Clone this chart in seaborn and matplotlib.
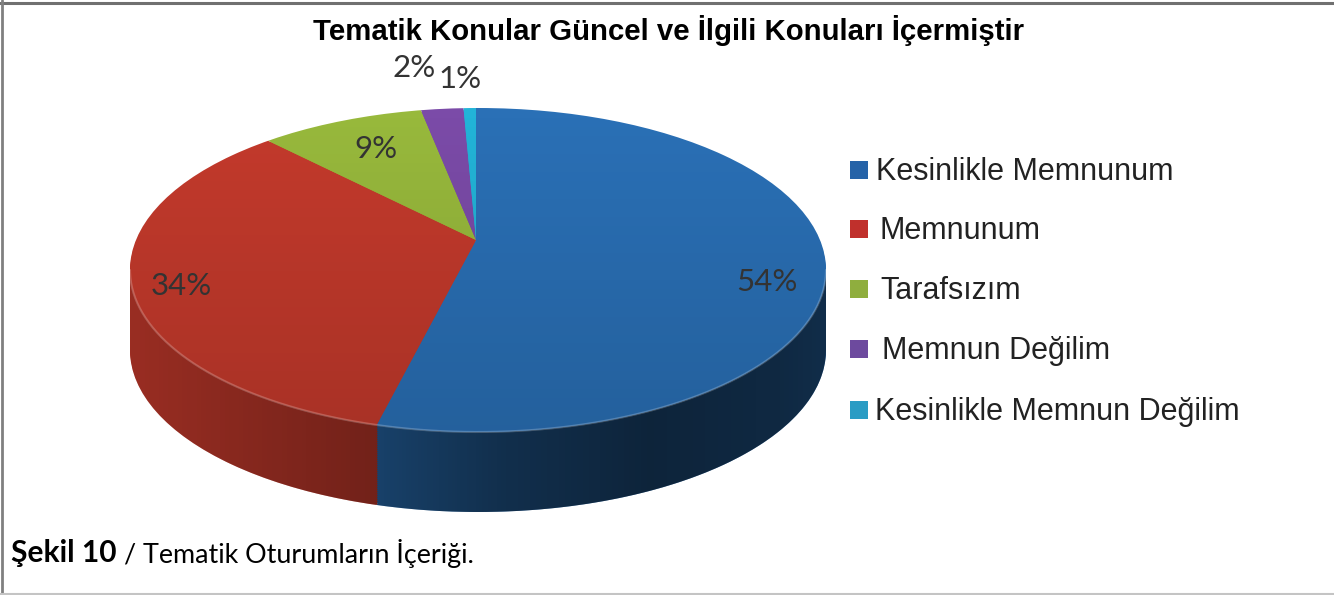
import numpy as np
import matplotlib
matplotlib.use('Agg')
import matplotlib.pyplot as plt
import seaborn as sns
from matplotlib.patches import Ellipse, PathPatch
from matplotlib.path import Path

CATEGORIES = ['Kesinlikle Memnunum', 'Memnunum', 'Tarafsızım', 'Memnun Değilim',
              'Kesinlikle Memnun Değilim']
# slice sizes, they round to the printed 54/34/9/2/1
SHARES = [53.9, 33.8, 9.2, 2.4, 0.7]
COLORS = ['#2a70b6', '#c43a2c', '#98b93c', '#7b4ba8', '#22b4d8']
LEGEND_COLORS = ['#2563a8', '#c0302c', '#8fae3e', '#6d4a9e', '#2a9cc4']
TITLE = 'Tematik Konular Güncel ve İlgili Konuları İçermiştir'

W, H = 1334, 595
# top ellipse of the pie, in pixels of the picture
CX, CY, RX, RY = 478, 270, 348, 162
APEX_X, APEX_Y = 476, 240
DEPTH = 80
K = RX / RY

sns.set_theme(style='white')
plt.rcParams['font.family'] = ['Liberation Sans', 'DejaVu Sans']

fig = plt.figure(figsize=(W / 100, H / 100), dpi=100, facecolor='white')

# pie axes: y is stretched so the round pie comes out as the flat ellipse
ax = fig.add_axes([0, 0, 1, 1])

def py(y):
    return (H - y) * K

def draw_pie(shift, zorder):
    ''' draws one layer of the pie, cut by the ellipse, moved down by shift '''
    wedges, _ = ax.pie(SHARES, colors=COLORS, startangle=90, counterclock=False,
                       radius=1000, center=(APEX_X, py(APEX_Y + shift)),
                       wedgeprops={'linewidth': 0})
    outline = Ellipse((CX, py(CY + shift)), 2 * RX, 2 * RX, transform=ax.transData)
    for wedge in wedges:
        wedge.set_zorder(zorder)
        wedge.set_clip_on(True)  # pie turns clipping off on its wedges
        wedge.set_clip_path(outline)
    return outline

# side of the pie, stacked from the bottom up
for shift in range(DEPTH, 0, -2):
    draw_pie(shift, 1)

# shading of the side, dark towards the right
t = np.linspace(0, np.pi, 200)
xs = CX + RX * np.cos(t)
ys = py(CY) - RX * np.sin(t)
side = np.column_stack([np.r_[xs, xs[::-1]], np.r_[ys, ys[::-1] - DEPTH * K]])
side_patch = PathPatch(Path(side), transform=ax.transData, fc='none', lw=0)
ax.add_patch(side_patch)
grad_x = np.linspace(CX - RX, CX + RX, 300)
alpha = np.interp(grad_x, [130, 250, 375, 500, 650, 780, 826],
                  [0.22, 0.32, 0.42, 0.58, 0.68, 0.64, 0.60])
shade = np.zeros((1, 300, 4))
shade[0, :, 3] = alpha
im = ax.imshow(shade, extent=(CX - RX, CX + RX, py(H), py(0)), aspect='auto', zorder=5)
im.set_clip_path(side_patch)

# top face comes after the shading
top = draw_pie(0, 6)

# top face gets a bit darker towards the front
top_shade = np.zeros((200, 1, 4))
top_shade[:, 0, 3] = np.linspace(0, 0.14, 200)
im2 = ax.imshow(top_shade, extent=(CX - RX, CX + RX, py(CY + RY), py(CY - RY)),
                aspect='auto', zorder=7)
im2.set_clip_path(top)

# light rim along the front edge
ax.plot(xs, ys, color='white', alpha=0.22, lw=1.5, zorder=8)

ax.set_aspect('auto')
ax.set_xlim(0, W)
ax.set_ylim(0, H * K)
ax.axis('off')

# overlay in picture pixels for the texts, legend and frame
over = fig.add_axes([0, 0, 1, 1], facecolor='none')
over.set_xlim(0, W)
over.set_ylim(H, 0)
over.axis('off')

over.text(669, 31, TITLE, ha='center', va='center', fontsize=21.2, fontweight='bold',
          color='black')

label_pos = [(767, 282), (181, 286), (376, 149), (414, 68), (460, 79)]
for share, (x, y) in zip(SHARES, label_pos):
    over.text(x, y, f'{round(share)}%', ha='center', va='center', fontsize=22.5,
              color='#333333', family=['Lato', 'DejaVu Sans'])

legend_text_x = [876, 880, 880, 882, 875]
legend_y = [170, 229, 289, 349, 410]
for name, color, x, y in zip(CATEGORIES, LEGEND_COLORS, legend_text_x, legend_y):
    over.scatter([859], [y], marker='s', s=150, color=color, linewidths=0)
    over.text(x, y + 2, name, ha='left', va='center', fontsize=22, color='#222222')

over.text(11, 553, 'Şekil 10', ha='left', va='center', fontsize=21.5, fontweight='bold',
          color='black', family=['Lato', 'DejaVu Sans'])
over.text(124, 553, '/ Tematik Oturumların İçeriği.', ha='left', va='center', fontsize=19.4,
          color='black', family=['Lato', 'DejaVu Sans'])

# frame of the page: top and left heavy, bottom light
over.plot([0, W], [3, 3], color='#707070', lw=2.2)
over.plot([1.5, 1.5], [0, H], color='#808080', lw=2)
over.plot([0, W], [593.5, 593.5], color='#c4c4c4', lw=1.5)

fig.savefig('out.png', dpi=100)
